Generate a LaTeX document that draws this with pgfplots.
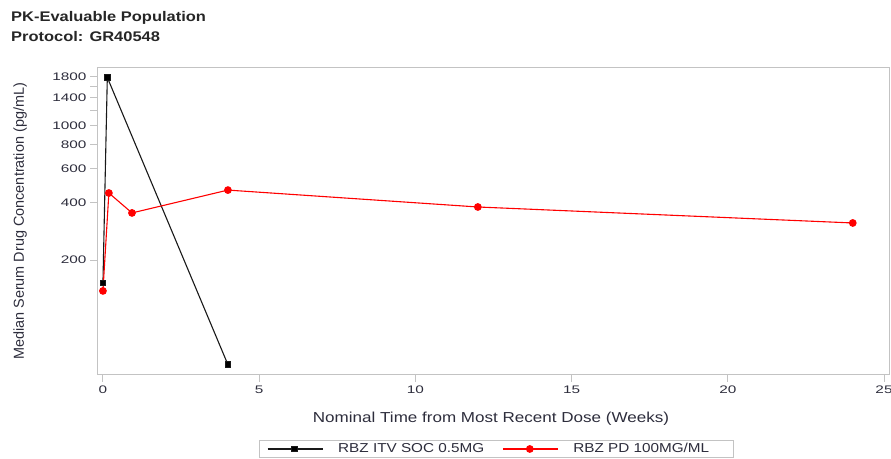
\documentclass[border=0pt]{standalone}
\usepackage{fontspec}
\setmainfont{Liberation Sans}
\newfontfamily\tickfont[FakeStretch=1.4]{Liberation Sans}
\newfontfamily\labfont[FakeStretch=1.18]{Liberation Sans}
\usepackage{pgfplots}
\pgfplotsset{compat=1.18}
\definecolor{framegray}{RGB}{195,195,195}
\definecolor{txt}{RGB}{45,45,60}
\definecolor{serblack}{RGB}{25,25,25}
\definecolor{serred}{RGB}{255,0,0}
\begin{document}
\begin{tikzpicture}
\path[use as bounding box] (0,0) rectangle (891bp,459bp);
\node[anchor=base west, inner sep=0pt, text=black!85, font=\labfont\fontsize{14}{16}\selectfont\bfseries] at (11bp,437bp) {PK-Evaluable Population};
\node[anchor=base west, inner sep=0pt, text=black!85, font=\labfont\fontsize{14}{16}\selectfont\bfseries] at (11bp,417bp) {Protocol: GR40548};
\begin{axis}[
  at={(97bp,84bp)}, anchor=south west,
  width=792bp, height=307bp, scale only axis,
  ymode=log,
  xmin=-0.19, xmax=25.16, ymin=50.3, ymax=2005,
  xtick={0,5,10,15,20,25},
  xticklabels={0,5,10,15,20,25},
  ytick={200,400,600,800,1000,1200,1400,1600,1800},
  yticklabels={200,400,600,800,1000,,1400,,1800},
  yminorticks=false, xminorticks=false,
  xtick pos=bottom, ytick pos=left,
  axis line style={framegray, line width=1bp},
  tick style={framegray, line width=1bp},
  tick align=outside,
  major tick length=7bp,
  ticklabel style={font=\tickfont\fontsize{11}{13}\selectfont, text=txt},
  xlabel={Nominal Time from Most Recent Dose (Weeks)},
  ylabel={Median Serum Drug Concentration (pg/mL)},
  every axis x label/.style={at={(axis description cs:0.4975,-0.156)}, anchor=base, font=\labfont\fontsize{14.5}{16}\selectfont, text=txt},
  every axis y label/.style={at={(axis description cs:-0.0922,0.5)}, rotate=90, anchor=base, font=\fontsize{14.5}{16}\selectfont, text=txt},
  legend columns=2,
  legend style={at={(axis description cs:0.504,-0.241)}, anchor=center, draw=framegray, line width=1bp, font=\labfont\fontsize{13}{15}\selectfont, text=txt, inner xsep=8bp, inner ysep=1bp,
    /tikz/every odd column/.append style={column sep=13bp},
    /tikz/every even column/.append style={column sep=16bp}},
  legend image code/.code={\draw[mark repeat=2,mark phase=2,#1] plot coordinates {(0bp,0bp) (27bp,0bp) (55bp,0bp)};},
]
\addplot[color=serblack, line width=1.1bp, mark=square*, mark size=2.8bp, mark options={solid, fill=black}] coordinates {
  (0,152) (0.14,1790) (4,57)
};
\addlegendentry{RBZ ITV SOC 0.5MG}
\addplot[color=serred, line width=1.1bp, mark=*, mark size=3.3bp, mark options={solid, fill=serred}] coordinates {
  (0,138) (0.19,447) (0.93,352) (4,463) (12,378) (24,312)
};
\addlegendentry{RBZ PD 100MG/ML\hspace*{14bp}}
\end{axis}
\end{tikzpicture}
\end{document}
